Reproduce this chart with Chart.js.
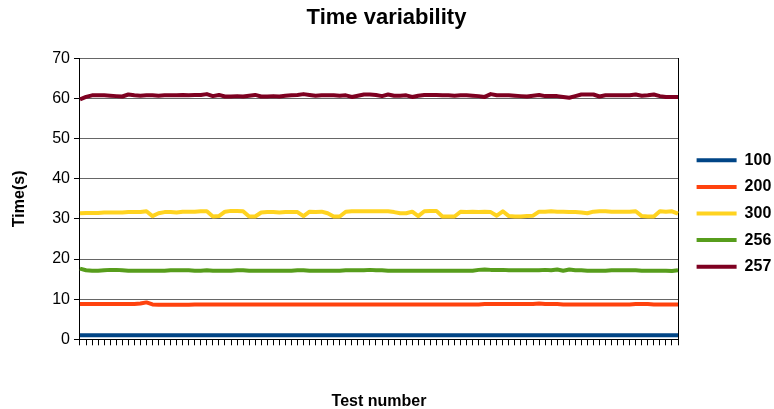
<!DOCTYPE html>
<html>
<head>
<meta charset="utf-8">
<title>Time variability</title>
<script src="https://cdn.jsdelivr.net/npm/chart.js@4.4.1/dist/chart.umd.min.js"></script>
<style>
  html, body { margin: 0; padding: 0; background: #ffffff; }
  #wrap { width: 774px; height: 409px; }
</style>
</head>
<body>
<div id="wrap"><canvas id="chart" width="774" height="409"></canvas></div>
<script>
// Test runs 1..100 (x axis carries tick marks only, no labels)
const testNumbers = Array.from({ length: 100 }, (_, i) => String(i + 1));

const seriesNames = ['100', '200', '300', '256', '257'];
const seriesColors = ['#004586', '#ff420e', '#ffd320', '#579d1c', '#7e0021'];

const yTicks = [0, 10, 20, 30, 40, 50, 60, 70];

// Measured times (s) per test run
const time100 = [
  1.0, 1.0, 1.0, 1.0, 1.0, 1.0, 1.0, 1.0, 1.0, 1.0,
  1.0, 1.0, 1.0, 1.0, 1.0, 1.0, 1.0, 1.0, 1.0, 1.0,
  1.0, 1.0, 1.0, 1.0, 1.0, 1.0, 1.0, 1.0, 1.0, 1.0,
  1.0, 1.0, 1.0, 1.0, 1.0, 1.0, 1.0, 1.0, 1.0, 1.0,
  1.0, 1.0, 1.0, 1.0, 1.0, 1.0, 1.0, 1.0, 1.0, 1.0,
  1.0, 1.0, 1.0, 1.0, 1.0, 1.0, 1.0, 1.0, 1.0, 1.0,
  1.0, 1.0, 1.0, 1.0, 1.0, 1.0, 1.0, 1.0, 1.0, 1.0,
  1.0, 1.0, 1.0, 1.0, 1.0, 1.0, 1.0, 1.0, 1.0, 1.0,
  1.0, 1.0, 1.0, 1.0, 1.0, 1.0, 1.0, 1.0, 1.0, 1.0,
  1.0, 1.0, 1.0, 1.0, 1.0, 1.0, 1.0, 1.0, 1.0, 1.0
];

const time200 = [
  8.8, 8.8, 8.8, 8.8, 8.8, 8.8, 8.8, 8.8, 8.8, 8.8,
  8.9, 9.2, 8.7, 8.6, 8.6, 8.6, 8.6, 8.6, 8.6, 8.7,
  8.7, 8.7, 8.7, 8.7, 8.7, 8.7, 8.7, 8.7, 8.7, 8.7,
  8.7, 8.7, 8.7, 8.7, 8.7, 8.7, 8.7, 8.7, 8.7, 8.7,
  8.7, 8.7, 8.7, 8.7, 8.7, 8.7, 8.7, 8.7, 8.7, 8.7,
  8.7, 8.7, 8.7, 8.7, 8.7, 8.7, 8.7, 8.7, 8.7, 8.7,
  8.7, 8.7, 8.7, 8.7, 8.7, 8.7, 8.7, 8.8, 8.8, 8.8,
  8.8, 8.8, 8.8, 8.8, 8.8, 8.8, 8.9, 8.8, 8.8, 8.8,
  8.7, 8.7, 8.7, 8.7, 8.7, 8.7, 8.7, 8.7, 8.7, 8.7,
  8.7, 8.7, 8.8, 8.8, 8.8, 8.7, 8.7, 8.7, 8.7, 8.7
];

const time300 = [
  31.4, 31.5, 31.5, 31.5, 31.6, 31.6, 31.6, 31.6, 31.7, 31.7,
  31.7, 31.9, 30.7, 31.4, 31.7, 31.7, 31.6, 31.8, 31.8, 31.8,
  31.9, 31.9, 30.6, 30.7, 31.8, 32.0, 32.0, 31.9, 30.6, 30.6,
  31.6, 31.7, 31.7, 31.6, 31.7, 31.7, 31.7, 30.7, 31.8, 31.7,
  31.8, 31.4, 30.6, 30.6, 31.8, 31.9, 31.9, 31.9, 31.9, 31.9,
  31.9, 31.9, 31.7, 31.4, 31.4, 31.8, 30.7, 31.9, 32.0, 32.0,
  30.6, 30.6, 30.6, 31.8, 31.7, 31.8, 31.7, 31.8, 31.7, 30.8,
  31.9, 30.7, 30.6, 30.6, 30.7, 30.8, 31.8, 31.8, 31.9, 31.8,
  31.8, 31.7, 31.7, 31.6, 31.4, 31.8, 31.9, 31.9, 31.8, 31.8,
  31.8, 31.8, 31.9, 30.7, 30.6, 30.6, 31.9, 31.8, 31.9, 31.3
];

const time256 = [
  17.6, 17.2, 17.1, 17.1, 17.2, 17.3, 17.3, 17.2, 17.1, 17.1,
  17.1, 17.1, 17.1, 17.1, 17.1, 17.2, 17.2, 17.2, 17.2, 17.1,
  17.1, 17.2, 17.1, 17.1, 17.1, 17.1, 17.2, 17.2, 17.1, 17.1,
  17.1, 17.1, 17.1, 17.1, 17.1, 17.1, 17.2, 17.2, 17.1, 17.1,
  17.1, 17.1, 17.1, 17.1, 17.2, 17.2, 17.2, 17.2, 17.3, 17.2,
  17.2, 17.1, 17.1, 17.1, 17.1, 17.1, 17.1, 17.1, 17.1, 17.1,
  17.1, 17.1, 17.1, 17.1, 17.1, 17.1, 17.3, 17.4, 17.3, 17.3,
  17.3, 17.2, 17.2, 17.2, 17.2, 17.2, 17.2, 17.3, 17.2, 17.4,
  17.1, 17.4, 17.2, 17.2, 17.1, 17.1, 17.1, 17.1, 17.2, 17.2,
  17.2, 17.2, 17.2, 17.1, 17.1, 17.1, 17.1, 17.1, 17.0, 17.2
];

const time257 = [
  59.8, 60.4, 60.8, 60.8, 60.8, 60.7, 60.6, 60.5, 61.0, 60.8,
  60.7, 60.8, 60.8, 60.7, 60.8, 60.8, 60.8, 60.9, 60.8, 60.9,
  60.9, 61.1, 60.6, 60.9, 60.5, 60.5, 60.6, 60.5, 60.7, 60.9,
  60.5, 60.5, 60.6, 60.5, 60.7, 60.8, 60.9, 61.1, 60.9, 60.7,
  60.8, 60.8, 60.8, 60.7, 60.8, 60.4, 60.7, 61.0, 61.0, 60.9,
  60.6, 61.0, 60.7, 60.7, 60.8, 60.4, 60.7, 60.9, 60.9, 60.9,
  60.8, 60.8, 60.7, 60.8, 60.8, 60.7, 60.6, 60.4, 61.1, 60.8,
  60.8, 60.8, 60.7, 60.6, 60.5, 60.7, 60.9, 60.6, 60.6, 60.6,
  60.4, 60.2, 60.6, 61.0, 61.0, 61.0, 60.5, 60.8, 60.8, 60.8,
  60.8, 60.8, 61.0, 60.7, 60.8, 61.0, 60.6, 60.4, 60.4, 60.4
];

const seriesValues = [time100, time200, time300, time256, time257];

Chart.defaults.font.family = "'Liberation Sans', Arial, sans-serif";
Chart.defaults.color = '#000000';

const datasets = seriesNames.map((name, k) => ({
  label: name,
  data: seriesValues[k],
  borderColor: seriesColors[k],
  backgroundColor: seriesColors[k],
  borderWidth: 4,
  pointRadius: 0,
  pointHoverRadius: 0,
  tension: 0,
  fill: false,
  borderJoinStyle: 'round'
}));

// Legend keys are flat bars in the series colour, without an outline
const legendLabels = (chart) =>
  Chart.defaults.plugins.legend.labels.generateLabels(chart)
    .map((item) => ({ ...item, lineWidth: 0 }));

new Chart(document.getElementById('chart'), {
  type: 'line',
  data: { labels: testNumbers, datasets },
  options: {
    responsive: false,
    animation: false,
    events: [],
    layout: { padding: { left: 0, right: 1, top: 0, bottom: 0 } },
    plugins: {
      title: {
        display: true,
        text: 'Time variability',
        color: '#000000',
        font: { size: 22, weight: 'bold' },
        padding: { top: 5, bottom: 27 }
      },
      legend: {
        display: true,
        position: 'right',
        align: 'start',
        maxWidth: 87,
        title: { display: true, text: ' ', font: { size: 1 }, padding: { top: 140.5, bottom: 0 } },
        labels: {
          boxWidth: 40,
          boxHeight: 4,
          padding: 10.6,
          color: '#000000',
          font: { size: 16, weight: 'bold' },
          generateLabels: legendLabels
        }
      },
      tooltip: { enabled: false }
    },
    scales: {
      x: {
        type: 'category',
        offset: false,
        border: { display: true, color: '#000000', width: 1 },
        grid: {
          display: true,
          drawOnChartArea: false,
          drawTicks: true,
          tickLength: 6,
          tickColor: '#000000'
        },
        ticks: { display: false, autoSkip: false },
        title: {
          display: true,
          text: 'Test number',
          color: '#000000',
          font: { size: 16, weight: 'bold' },
          padding: { top: 47, bottom: -2.5 }
        }
      },
      y: {
        min: 0,
        max: 70,
        afterBuildTicks: (scale) => { scale.ticks = yTicks.map(v => ({ value: v })); },
        border: { display: true, color: '#000000', width: 1 },
        grid: {
          color: '#666666',
          lineWidth: 1,
          drawTicks: true,
          tickLength: 6,
          tickColor: '#000000'
        },
        ticks: { font: { size: 16 }, color: '#000000', padding: 4 },
        title: {
          display: true,
          text: 'Time(s)',
          color: '#000000',
          font: { size: 16, weight: 'bold' },
          padding: { top: 10, bottom: 19 }
        }
      },
      yRight: {
        position: 'right',
        min: 0,
        max: 70,
        border: { display: true, color: '#000000', width: 1 },
        grid: { display: false, drawOnChartArea: false, drawTicks: false },
        ticks: { display: false },
        afterFit: (scale) => { scale.width = 8; }
      }
    }
  }
});
</script>
</body>
</html>
